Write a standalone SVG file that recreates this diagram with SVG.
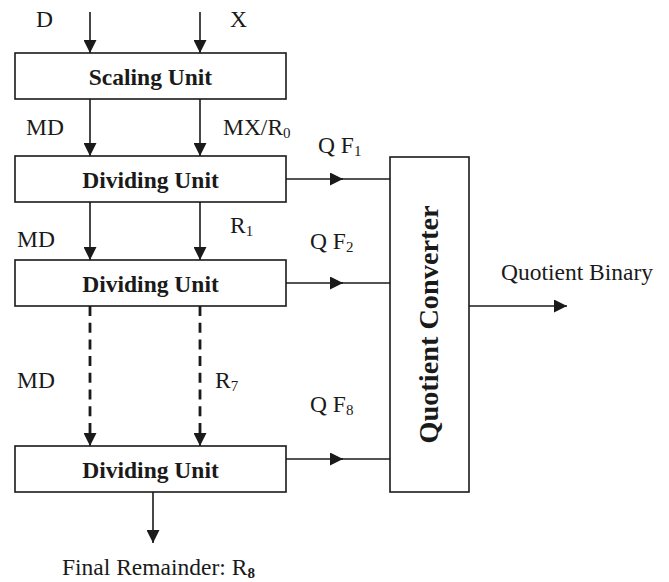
<svg xmlns="http://www.w3.org/2000/svg" width="669" height="582" viewBox="0 0 669 582">
<defs>
<marker id="ah" markerWidth="13" markerHeight="13" viewBox="0 0 13 13" refX="13" refY="6.5" orient="auto" markerUnits="userSpaceOnUse">
<path d="M0,0 L13,6.5 L0,13 Z" fill="#1a1a1a"/>
</marker>
<style>
.box{fill:#fff;stroke:#1a1a1a;stroke-width:1.6}
.ln{stroke:#1a1a1a;stroke-width:1.6;fill:none}
.dash{stroke:#1a1a1a;stroke-width:2.8;fill:none;stroke-dasharray:10 6.7}
.t{font-family:"Liberation Serif","Times New Roman",serif;font-size:23.5px;fill:#1a1a1a}
.b{font-family:"Liberation Serif","Times New Roman",serif;font-size:23.5px;font-weight:bold;fill:#1a1a1a}
.sub{font-size:15px}
</style>
</defs>
<rect width="669" height="582" fill="#fff"/>
<g id="connectors">
<line class="ln" x1="90" y1="12" x2="90" y2="53" marker-end="url(#ah)"/>
<line class="ln" x1="200" y1="12" x2="200" y2="53" marker-end="url(#ah)"/>
<line class="ln" x1="90" y1="99" x2="90" y2="156" marker-end="url(#ah)"/>
<line class="ln" x1="200" y1="99" x2="200" y2="156" marker-end="url(#ah)"/>
<line class="ln" x1="90" y1="202" x2="90" y2="260" marker-end="url(#ah)"/>
<line class="ln" x1="200" y1="202" x2="200" y2="260" marker-end="url(#ah)"/>
<line class="dash" x1="90" y1="306" x2="90" y2="438"/>
<line class="dash" x1="200" y1="306" x2="200" y2="438"/>
<line class="ln" x1="90" y1="432" x2="90" y2="446" marker-end="url(#ah)"/>
<line class="ln" x1="200" y1="432" x2="200" y2="446" marker-end="url(#ah)"/>
<line class="ln" x1="153" y1="492" x2="153" y2="543" marker-end="url(#ah)"/>
<line class="ln" x1="286" y1="179" x2="343" y2="179" marker-end="url(#ah)"/>
<line class="ln" x1="340" y1="179" x2="390" y2="179"/>
<line class="ln" x1="286" y1="283" x2="343" y2="283" marker-end="url(#ah)"/>
<line class="ln" x1="340" y1="283" x2="390" y2="283"/>
<line class="ln" x1="286" y1="459" x2="343" y2="459" marker-end="url(#ah)"/>
<line class="ln" x1="340" y1="459" x2="390" y2="459"/>
<line class="ln" x1="469" y1="306" x2="567" y2="306" marker-end="url(#ah)"/>
</g>
<g id="scaling-unit">
<rect class="box" x="15" y="53" width="271" height="46"/>
<text class="b" x="150.5" y="84.5" text-anchor="middle">Scaling Unit</text>
</g>
<g id="dividing-unit-1">
<rect class="box" x="15" y="156" width="271" height="46"/>
<text class="b" x="150.5" y="187.5" text-anchor="middle">Dividing Unit</text>
</g>
<g id="dividing-unit-2">
<rect class="box" x="15" y="260" width="271" height="46"/>
<text class="b" x="150.5" y="291.5" text-anchor="middle">Dividing Unit</text>
</g>
<g id="dividing-unit-3">
<rect class="box" x="15" y="446" width="271" height="46"/>
<text class="b" x="150.5" y="477.5" text-anchor="middle">Dividing Unit</text>
</g>
<g id="quotient-converter">
<rect class="box" x="390" y="157" width="79" height="335"/>
<text class="b" style="font-size:28.3px" transform="translate(438,324.5) rotate(-90)" text-anchor="middle">Quotient Converter</text>
</g>
<g id="labels">
<text class="t" x="36" y="27">D</text>
<text class="t" x="230" y="27">X</text>
<text class="t" x="26" y="135">MD</text>
<text class="t" x="223" y="135">MX/R<tspan class="sub" dy="3">0</tspan></text>
<text class="t" x="17" y="247">MD</text>
<text class="t" x="230" y="233">R<tspan class="sub" dy="3">1</tspan></text>
<text class="t" x="17" y="388">MD</text>
<text class="t" x="215" y="388">R<tspan class="sub" dy="3">7</tspan></text>
<text class="t" x="318" y="153">Q F<tspan class="sub" dy="3">1</tspan></text>
<text class="t" x="310" y="249">Q F<tspan class="sub" dy="3">2</tspan></text>
<text class="t" x="310" y="412">Q F<tspan class="sub" dy="3">8</tspan></text>
<text class="t" x="501" y="280">Quotient Binary</text>
<text class="t" x="62" y="575">Final Remainder: R<tspan class="sub" dy="3" font-weight="bold">8</tspan></text>
</g>
</svg>
